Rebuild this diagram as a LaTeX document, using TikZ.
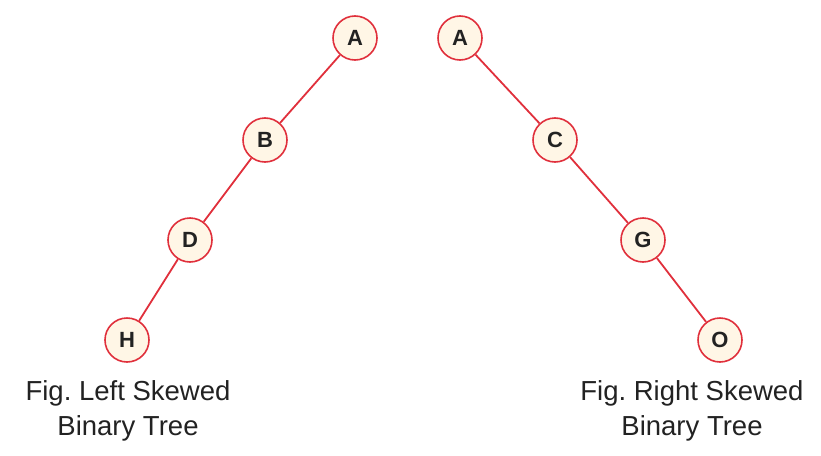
\documentclass[tikz,border=0pt]{standalone}
\usepackage{fontspec}
\setmainfont{Liberation Sans}
\definecolor{edgered}{HTML}{E0303C}
\definecolor{nodefill}{HTML}{FFF6E6}
\definecolor{txt}{HTML}{222222}
\begin{document}
\begin{tikzpicture}[x=1pt,y=-1pt,
  tnode/.style={circle,draw=edgered,fill=nodefill,line width=1.6pt,minimum size=44pt,inner sep=0pt,font=\fontsize{22}{24}\selectfont\bfseries,text=txt},
  tedge/.style={draw=edgered,line width=1.8pt},
  caption/.style={align=center,font=\fontsize{27.5}{35}\selectfont,text=txt}]
\useasboundingbox (0,0) rectangle (821,455);
\node[tnode] (lA) at (355,38) {A};
\node[tnode] (lB) at (265,140) {B};
\node[tnode] (lD) at (190,240) {D};
\node[tnode] (lH) at (127,340) {H};
\node[tnode] (rA) at (460,38) {A};
\node[tnode] (rC) at (555,140) {C};
\node[tnode] (rG) at (643,240) {G};
\node[tnode] (rO) at (720,340) {O};
\draw[tedge] (lA) -- (lB);
\draw[tedge] (lB) -- (lD);
\draw[tedge] (lD) -- (lH);
\draw[tedge] (rA) -- (rC);
\draw[tedge] (rC) -- (rG);
\draw[tedge] (rG) -- (rO);
\node[caption] (lcap) at (128,411) {Fig.\ Left Skewed\\Binary Tree};
\node[caption] (rcap) at (692,411) {Fig.\ Right Skewed\\Binary Tree};
\end{tikzpicture}
\end{document}
